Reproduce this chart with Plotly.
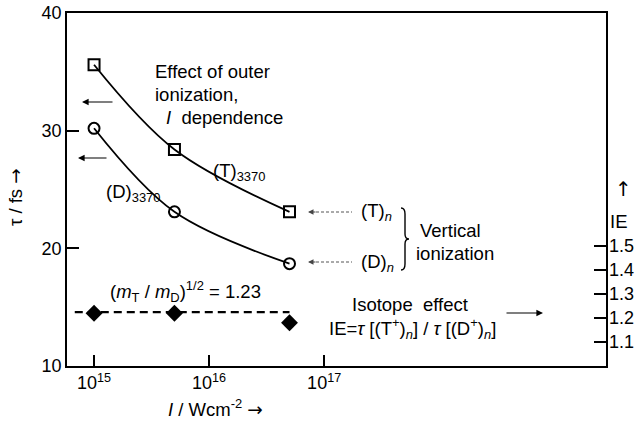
import plotly.graph_objects as go

# ---- data ----
intensity = [1e15, 5e15, 5e16]
tau_T = [35.6, 28.4, 23.1]
tau_D = [30.2, 23.1, 18.7]
ie_values = [1.22, 1.22, 1.18]
ie_ref_x = [6.8e14, 5e16]
ie_ref_y = [1.2247, 1.2247]
x_tickvals = [1e15, 1e16, 1e17]
x_ticktext = ["10<sup>15</sup>", "10<sup>16</sup>", "10<sup>17</sup>"]
y_tickvals = [10, 20, 30, 40]
ie_tickvals = [1.1, 1.2, 1.3, 1.4, 1.5]

W, H = 636, 421
L, R, T, B = 67, 30, 13, 55
PW, PH = W - L - R, H - T - B
FONT = "Liberation Sans, Arial, Helvetica, sans-serif"
FS = 18.5
ARW = '<span style="font-family:DejaVu Sans">{}</span>'


def px(x):
    return (x - L) / PW


def py(y):
    return (H - B - y) / PH


fig = go.Figure()
fig.add_trace(go.Scatter(x=intensity, y=tau_T, mode="lines+markers",
                         line=dict(color="black", width=1.8, shape="spline"),
                         marker=dict(symbol="square-open", size=11, color="black",
                                     line=dict(width=2))))
fig.add_trace(go.Scatter(x=intensity, y=tau_D, mode="lines+markers",
                         line=dict(color="black", width=1.8, shape="spline"),
                         marker=dict(symbol="circle-open", size=11, color="black",
                                     line=dict(width=2))))
fig.add_trace(go.Scatter(x=ie_ref_x, y=ie_ref_y, mode="lines", yaxis="y2",
                         line=dict(color="black", width=2.2, dash="8px,5px")))
fig.add_trace(go.Scatter(x=intensity, y=ie_values, mode="markers", yaxis="y2",
                         marker=dict(symbol="diamond", size=13, color="black")))

ann = []


def text(x, y, s, size=FS, xanchor="left", **kw):
    ann.append(dict(x=px(x), y=py(y), xref="paper", yref="paper", text=s,
                    showarrow=False, xanchor=xanchor, yanchor="middle",
                    font=dict(family=FONT, size=size, color="black"), **kw))


def arrow(hx, hy, tx, ty, color="black", width=1.2):
    ann.append(dict(x=px(hx), y=py(hy), xref="paper", yref="paper", text="",
                    showarrow=True, ax=tx - hx, ay=ty - hy, arrowhead=2,
                    arrowsize=1.1, arrowwidth=width, arrowcolor=color))


text(153, 71, "Effect of outer")
text(153, 94, "ionization,")
text(164, 117, "<i>I</i>  dependence")
arrow(82, 102, 114, 102)
arrow(78, 158, 108, 158)
text(211, 172, "(T)<sub>3370</sub>")
text(104, 193, "(D)<sub>3370</sub>")
text(359, 212, "(T)<sub><i>n</i></sub>")
text(359, 263, "(D)<sub><i>n</i></sub>")
text(418, 230, "Vertical")
text(414, 253, "ionization")
text(410, 304, "Isotope  effect", xanchor="center")
text(412, 328, "IE=<i>τ</i> [(T<sup>+</sup>)<sub><i>n</i></sub>] / <i>τ</i> [(D<sup>+</sup>)<sub><i>n</i></sub>]",
     xanchor="center")
arrow(543, 313, 505, 313)
text(108, 291, "(<i>m</i><sub>T</sub> / <i>m</i><sub>D</sub>)<sup>1/2</sup> = 1.23")
text(215, 408, "<i>I</i> / Wcm<sup>-2</sup> " + ARW.format("→"), xanchor="center")
text(15, 197, "τ / fs " + ARW.format("→"), xanchor="center", textangle=-90)
text(618, 221, "IE", xanchor="center")
text(623, 189, ARW.format("↑"), size=20, xanchor="center")

shapes = []
# dashed pointer arrows
for yy in (212, 262):
    shapes.append(dict(type="line", xref="paper", yref="paper",
                       x0=px(316), x1=px(352), y0=py(yy), y1=py(yy),
                       line=dict(color="#555", width=1, dash="3px,2px")))
    arrow(308, yy, 317, yy, color="#444", width=1)

# curly brace
bx, btop, bbot = 401, 208, 270
bmid = (btop + bbot) / 2
pts = [
    ("M", [(bx, btop)]),
    ("Q", [(bx + 4, btop), (bx + 4, btop + 6)]),
    ("L", [(bx + 4, bmid - 5)]),
    ("Q", [(bx + 4, bmid), (bx + 8, bmid)]),
    ("Q", [(bx + 4, bmid), (bx + 4, bmid + 5)]),
    ("L", [(bx + 4, bbot - 6)]),
    ("Q", [(bx + 4, bbot), (bx, bbot)]),
]
path = " ".join(cmd + " " + " ".join(f"{px(a):.5f},{py(b):.5f}" for a, b in p)
                for cmd, p in pts)
shapes.append(dict(type="path", xref="paper", yref="paper", path=path,
                   line=dict(color="black", width=1.4)))

fig.update_layout(
    width=W, height=H, margin=dict(l=L, r=R, t=T, b=B, pad=0, autoexpand=False),
    paper_bgcolor="white", plot_bgcolor="white", showlegend=False,
    font=dict(family=FONT, color="black"),
    annotations=ann, shapes=shapes,
    xaxis=dict(type="log", range=[14.765, 19.45], tickvals=x_tickvals,
               ticktext=x_ticktext, ticks="inside", ticklen=11, tickwidth=1.5,
               tickcolor="black", showline=True, linecolor="black", linewidth=1.5,
               mirror=True, showgrid=False, zeroline=False, automargin=False,
               tickfont=dict(size=18, family=FONT)),
    yaxis=dict(range=[10, 40], tickvals=y_tickvals, ticks="inside", ticklen=12,
               tickwidth=1.5, tickcolor="black", showline=True, linecolor="black",
               linewidth=1.5, mirror=True, showgrid=False, zeroline=False,
               automargin=False, tickfont=dict(size=18, family=FONT)),
    yaxis2=dict(overlaying="y", side="right", range=[1.0, 2.4708],
                tickvals=ie_tickvals, ticks="inside", ticklen=12, tickwidth=1.5,
                tickcolor="black", showline=False, showgrid=False, zeroline=False,
                automargin=False, ticklabelstandoff=2,
                tickfont=dict(size=18, family=FONT)),
)

fig.write_html("out.html")
